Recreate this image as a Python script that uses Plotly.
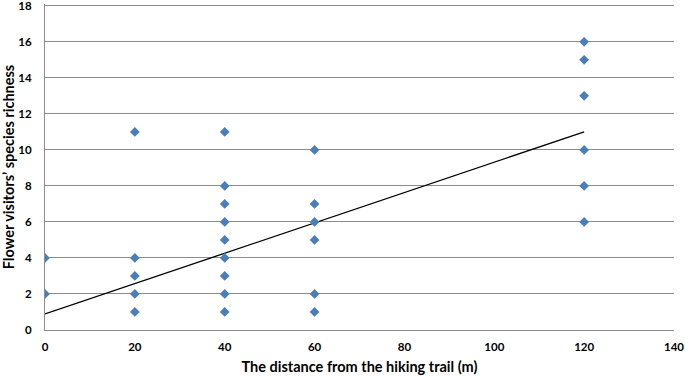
import plotly.graph_objects as go

# Observed points (distance m, species richness)
dist_0 = [0, 0]
rich_0 = [2, 4]
dist_20 = [20, 20, 20, 20, 20]
rich_20 = [1, 2, 3, 4, 11]
dist_40 = [40, 40, 40, 40, 40, 40, 40, 40, 40]
rich_40 = [1, 2, 3, 4, 5, 6, 7, 8, 11]
dist_60 = [60, 60, 60, 60, 60, 60]
rich_60 = [1, 2, 5, 6, 7, 10]
dist_120 = [120, 120, 120, 120, 120, 120]
rich_120 = [6, 8, 10, 13, 15, 16]

# Linear trend line
trend_x = [0, 120]
trend_intercept = 0.89
trend_slope = 0.0843

x_ticks = [0, 20, 40, 60, 80, 100, 120, 140]
y_ticks = [0, 2, 4, 6, 8, 10, 12, 14, 16, 18]

xs = dist_0 + dist_20 + dist_40 + dist_60 + dist_120
ys = rich_0 + rich_20 + rich_40 + rich_60 + rich_120
trend_y = [trend_intercept + trend_slope * v for v in trend_x]

fig = go.Figure()
fig.add_trace(go.Scatter(
    x=trend_x, y=trend_y, mode="lines",
    line=dict(color="#000000", width=1.3), hoverinfo="skip", showlegend=False))
fig.add_trace(go.Scatter(
    x=xs, y=ys, mode="markers",
    marker=dict(symbol="diamond", size=7.5, color="#4a7ebb"), showlegend=False))

font_family = "Lato, Open Sans, sans-serif"
fig.update_layout(
    width=685, height=378,
    margin=dict(l=45, r=11, t=4, b=48),
    paper_bgcolor="white", plot_bgcolor="white",
    font=dict(family=font_family, color="#000000"),
    xaxis=dict(
        range=[0, 140], tickvals=x_ticks, ticktext=[str(v) for v in x_ticks],
        showgrid=False, zeroline=False, showline=True, linecolor="#8c8c8c",
        linewidth=1, automargin=False, ticklabeloverflow="allow",
        tickfont=dict(size=11.5, family=font_family, weight="bold"),
        ticks="outside", ticklen=6, tickcolor="rgba(0,0,0,0)",
        title=dict(text="<b>The distance from the hiking trail (m)</b>",
                   font=dict(size=14.5, family=font_family), standoff=10),
    ),
    yaxis=dict(
        range=[0, 18.1], tickvals=y_ticks, ticktext=[str(v) for v in y_ticks],
        showgrid=True, gridcolor="#8c8c8c", gridwidth=1,
        zeroline=False, showline=True, linecolor="#8c8c8c", linewidth=1,
        automargin=False, ticklabeloverflow="allow",
        tickfont=dict(size=11.5, family=font_family, weight="bold"),
        ticks="outside", ticklen=10, tickcolor="rgba(0,0,0,0)",
        title=dict(text="<b>Flower visitors’ species richness</b>",
                   font=dict(size=14.5, family=font_family), standoff=2),
    ),
)

fig.write_html("out.html", config={"displayModeBar": False},
               post_script="document.body.style.margin='0';")
